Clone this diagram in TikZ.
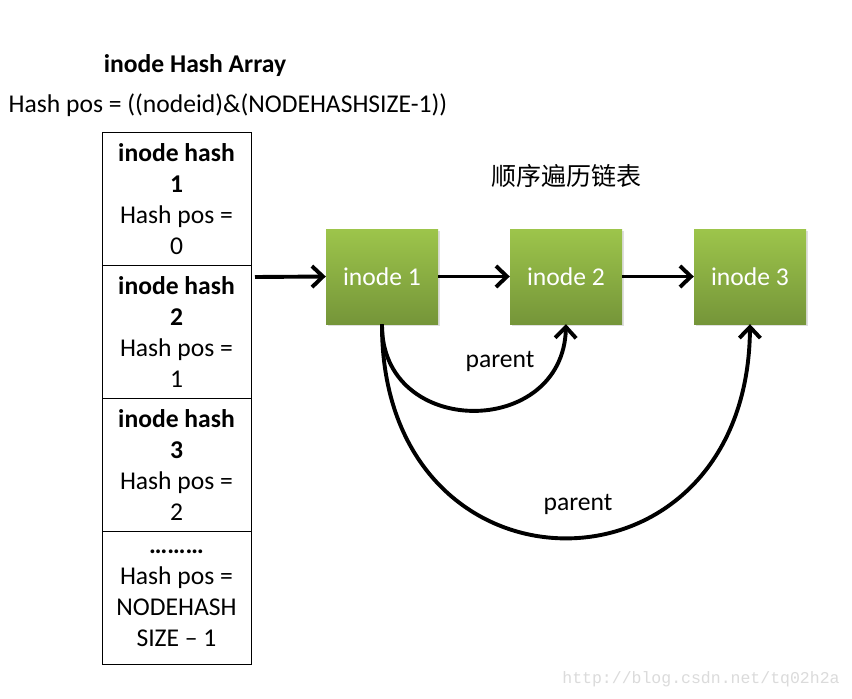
\documentclass[tikz,border=0pt]{standalone}
\usepackage{fontspec}
\setmainfont{Carlito}
\newfontfamily\cjk{Noto Sans CJK SC}
\newfontfamily\wmfont{Liberation Mono}
\usetikzlibrary{arrows.meta,shadows}
\definecolor{gtop}{HTML}{9DC54B}
\definecolor{gbot}{HTML}{759539}
\tikzset{
  txt/.style={font=\fontsize{25.6}{31}\selectfont, inner sep=0pt},
  cell/.style={draw=black, line width=0.8pt, minimum width=149pt, minimum height=133pt, inner sep=0pt, align=center, font=\fontsize{25.6}{31}\selectfont},
  inodebox/.style={minimum width=112pt, minimum height=95pt, inner sep=0pt, top color=gtop, bottom color=gbot, draw=none, text=white,
    font=\fontsize{25.6}{31}\selectfont, drop shadow={shadow xshift=1.5pt, shadow yshift=-1.5pt, opacity=0.25}},
  arr/.style={line width=3.9pt, -{Straight Barb[length=11pt,width=21pt]}},
}
\begin{document}
\begin{tikzpicture}[x=1pt,y=-1pt]
\useasboundingbox (0,0) rectangle (852,699);
\fill[white] (0,0) rectangle (852,699);
\node[txt, font=\bfseries\fontsize{25.6}{31}\selectfont] (title) at (195,66) {inode Hash Array};
\node[txt] (formula) at (228,105) {Hash pos = ((nodeid)\&(NODEHASHSIZE-1))};
\node[cell] (c1) at (176.5,199) {\textbf{inode hash}\\\textbf{1}\\Hash pos =\\0};
\node[cell] (c2) at (176.5,332) {\textbf{inode hash}\\\textbf{2}\\Hash pos =\\1};
\node[cell] (c3) at (176.5,465) {\textbf{inode hash}\\\textbf{3}\\Hash pos =\\2};
\node[cell] (c4) at (176.5,598) {\textbf{………}\\Hash pos =\\NODEHASH\\SIZE – 1};
\node[txt, font=\cjk\fontsize{25}{31}\selectfont] (cn) at (566,176) {顺序遍历链表};
\node[inodebox] (n1) at (382,276.5) {inode 1};
\node[inodebox] (n2) at (566,276.5) {inode 2};
\node[inodebox] (n3) at (750,276.5) {inode 3};
\coordinate (src) at (255,277);
\draw[arr] (src) -- (n1.west);
\draw[arr] (n1.east) -- (n2.west);
\draw[arr] (n2.east) -- (n3.west);
\draw[arr] (n1.south) .. controls (381,439) and (563,439) .. (n2.south);
\draw[arr] (n1.south) .. controls (381,609) and (748,609) .. (n3.south);
\node[txt] (p1) at (500,361) {parent};
\node[txt] (p2) at (578,504) {parent};
\node[txt, font=\wmfont\fontsize{16.5}{18}\selectfont, text=black!14] (wm) at (701,679) {http://blog.csdn.net/tq02h2a};
\end{tikzpicture}
\end{document}
